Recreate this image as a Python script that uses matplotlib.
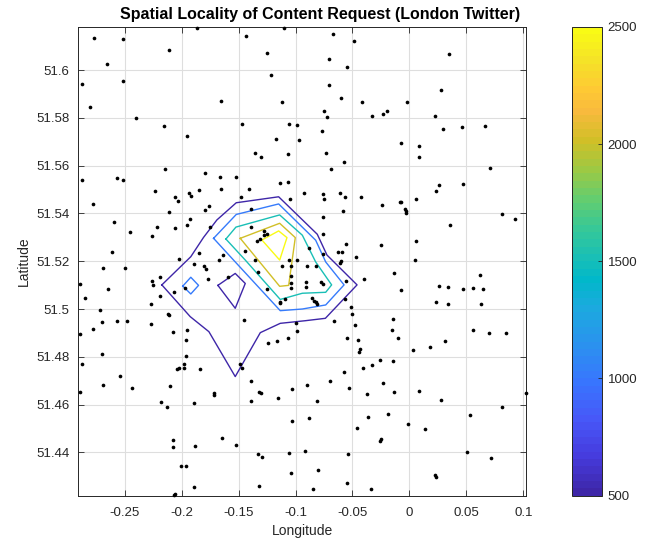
import matplotlib
matplotlib.use("Agg")
import matplotlib.pyplot as plt
from matplotlib.colors import LinearSegmentedColormap, Normalize
import matplotlib.cm as cm
import numpy as np

plt.rcParams['font.family'] = ['Liberation Sans', 'DejaVu Sans']

# ---------------- data ----------------
title = "Spatial Locality of Content Request (London Twitter)"
x_label = "Longitude"
y_label = "Latitude"
x_ticks = [-0.25, -0.2, -0.15, -0.1, -0.05, 0, 0.05, 0.1]
x_tick_labels = ["-0.25", "-0.2", "-0.15", "-0.1", "-0.05", "0", "0.05", "0.1"]
y_ticks = [51.44, 51.46, 51.48, 51.5, 51.52, 51.54, 51.56, 51.58, 51.6]
y_tick_labels = ["51.44", "51.46", "51.48", "51.5", "51.52", "51.54", "51.56", "51.58", "51.6"]
cbar_ticks = [500, 1000, 1500, 2000, 2500]

req_lon = [
    -0.2768, -0.2510, -0.2112, -0.2657, -0.2873, -0.2513, -0.2803, -0.2402, -0.2150, -0.1954,
    -0.2144, -0.2873, -0.2569, -0.2513, -0.2229, -0.2059, -0.2033, -0.1936, -0.1919, -0.2774,
    -0.2112, -0.2592, -0.1927, -0.1951, -0.2214, -0.2062, -0.2452, -0.2258, -0.2613, -0.2021,
    -0.1866, -0.1104, -0.1438, -0.1248, -0.1213, -0.1655, -0.1122, -0.1470, -0.1057, -0.0987,
    -0.1175, -0.0967, -0.1356, -0.1303, -0.1069, -0.1793, -0.1661, -0.1520, -0.1134, -0.1063,
    -0.1845, -0.1652, -0.1406, -0.0929, -0.1476, -0.1046, -0.1796, -0.1757, -0.1394, -0.1749,
    -0.1394, -0.1280, -0.1251, -0.1274, -0.1339, -0.1309, -0.1444, -0.1848, -0.1640, -0.1670,
    -0.1359, -0.1057, -0.0987,
    -0.0671, -0.0489, -0.0709, -0.0545, -0.0703, -0.0600, -0.0413, -0.0018, -0.0753, -0.0721,
    -0.0331, -0.0234, -0.0196, -0.0770, -0.0073, -0.0732, -0.0571, -0.0685, -0.0762, -0.0753,
    -0.0612, -0.0565, -0.0425, -0.0243, -0.0085, -0.0073, -0.0038, -0.0032, -0.0026, -0.0580,
    -0.0762, -0.0759, -0.0556, -0.0879, -0.0756, -0.0627, -0.0595, -0.0603, -0.0466, -0.0246,
    0.0343, 0.0278, 0.0220, 0.0293, 0.0460, 0.0665, 0.0082, 0.0082, 0.0703, 0.0261,
    0.0237, 0.0469, 0.0061, 0.0814, 0.0926, 0.0357, 0.0061, 0.0050,
    -0.2689, -0.2493, -0.2894, -0.2645, -0.2844, -0.2258, -0.2255, -0.2191, -0.2191, -0.2264,
    -0.2068, -0.1971, -0.2718, -0.2695, -0.2563, -0.2475, -0.2264, -0.2774, -0.2894, -0.2118,
    -0.2110, -0.2077, -0.1954, -0.1965, -0.2695, -0.2871, -0.1962, -0.1983, -0.2024, -0.2036,
    -0.1983, -0.2542, -0.2689, -0.2434, -0.2100, -0.2894, -0.2179, -0.2124, -0.2077, -0.2074,
    -0.2006, -0.1965, -0.2059, -0.2068,
    -0.1895, -0.1801, -0.1784, -0.1766, -0.1596, -0.1122, -0.1327, -0.1251, -0.1040, -0.1040,
    -0.1040, -0.1040, -0.1134, -0.1134, -0.1090, -0.1450, -0.0993, -0.0987, -0.1245, -0.1163,
    -0.1063, -0.1839, -0.1485, -0.1470, -0.1391, -0.1719, -0.1719, -0.1324, -0.1303, -0.1892,
    -0.1391, -0.1151, -0.1028, -0.1028, -0.1643, -0.1523, -0.1883, -0.1327, -0.1292, -0.1057,
    -0.1040, -0.1895, -0.1321,
    -0.0896, -0.0817, -0.0612, -0.0398, -0.0138, -0.0070, -0.0911, -0.0911, -0.0779, -0.0756,
    -0.0852, -0.0838, -0.0823, -0.0808, -0.0559, -0.0565, -0.0515, -0.0501, -0.0665, -0.0477,
    -0.0146, -0.0149, -0.0102, -0.0548, -0.0451, 0.0032, -0.0433, -0.0439, -0.0261, -0.0141,
    -0.0407, -0.0328, -0.0574, -0.0700, -0.0899, -0.0527, -0.0231, -0.0375, -0.0132, -0.0809,
    -0.0882, -0.0360, -0.0185, -0.0009, -0.0457, -0.0261, -0.0249, -0.0917, -0.0536, -0.0805,
    -0.0548, -0.0846, -0.0334,
    0.0618, 0.0261, 0.0340, 0.0466, 0.0554, 0.0644, 0.0231, 0.0334, 0.0630, 0.0554,
    0.0700, 0.0849, 0.0313, 0.0182, 0.0085, 0.0278, 0.0808, 0.1025, 0.0530, 0.0138,
    0.0507, 0.0712, 0.0226, 0.0237,
]
req_lat = [
    51.6136, 51.6129, 51.6083, 51.6027, 51.5944, 51.5953, 51.5847, 51.5801, 51.5766, 51.5724,
    51.5588, 51.5542, 51.5550, 51.5540, 51.5493, 51.5469, 51.5452, 51.5486, 51.5472, 51.5441,
    51.5406, 51.5364, 51.5376, 51.5350, 51.5345, 51.5339, 51.5321, 51.5306, 51.5237, 51.5209,
    51.6178, 51.6178, 51.6142, 51.6071, 51.5981, 51.5871, 51.5865, 51.5776, 51.5775, 51.5771,
    51.5713, 51.5708, 51.5655, 51.5637, 51.5648, 51.5568, 51.5553, 51.5554, 51.5528, 51.5530,
    51.5500, 51.5503, 51.5504, 51.5487, 51.5467, 51.5460, 51.5415, 51.5433, 51.5417, 51.5343,
    51.5343, 51.5327, 51.5316, 51.5310, 51.5285, 51.5293, 51.5244, 51.5233, 51.5226, 51.5206,
    51.5205, 51.5204, 51.5204,
    51.6152, 51.6124, 51.6047, 51.6013, 51.5938, 51.5882, 51.5867, 51.5867, 51.5831, 51.5804,
    51.5810, 51.5815, 51.5829, 51.5745, 51.5695, 51.5652, 51.5616, 51.5588, 51.5482, 51.5461,
    51.5487, 51.5470, 51.5469, 51.5434, 51.5448, 51.5447, 51.5420, 51.5412, 51.5403, 51.5409,
    51.5384, 51.5314, 51.5272, 51.5257, 51.5230, 51.5239, 51.5239, 51.5200, 51.5216, 51.5268,
    51.6069, 51.5918, 51.5808, 51.5755, 51.5764, 51.5765, 51.5683, 51.5638, 51.5590, 51.5518,
    51.5493, 51.5525, 51.5461, 51.5396, 51.5378, 51.5353, 51.5285, 51.5204,
    51.5172, 51.5172, 51.5103, 51.5085, 51.5048, 51.5119, 51.5099, 51.5135, 51.5054, 51.5022,
    51.5071, 51.5088, 51.4996, 51.4946, 51.4951, 51.4948, 51.4939, 51.4915, 51.4895, 51.4978,
    51.4973, 51.4905, 51.4912, 51.4872, 51.4810, 51.4770, 51.4803, 51.4770, 51.4752, 51.4747,
    51.4753, 51.4718, 51.4680, 51.4669, 51.4679, 51.4651, 51.4612, 51.4588, 51.4453, 51.4421,
    51.4344, 51.4344, 51.4224, 51.4221,
    51.5188, 51.5181, 51.5166, 51.5126, 51.5135, 51.5181, 51.5154, 51.5082, 51.5180, 51.5138,
    51.5107, 51.5088, 51.5031, 51.5024, 51.5041, 51.4953, 51.4940, 51.4907, 51.4859, 51.4866,
    51.4880, 51.4750, 51.4770, 51.4751, 51.4698, 51.4648, 51.4641, 51.4654, 51.4647, 51.4608,
    51.4616, 51.4626, 51.4663, 51.4532, 51.4461, 51.4429, 51.4427, 51.4391, 51.4381, 51.4398,
    51.4315, 51.4253, 51.4257,
    51.5181, 51.5181, 51.5194, 51.5126, 51.5149, 51.5080, 51.5115, 51.5094, 51.5115, 51.5103,
    51.5045, 51.5035, 51.5028, 51.5021, 51.5116, 51.5042, 51.5010, 51.4979, 51.4950, 51.4932,
    51.4957, 51.4912, 51.4880, 51.4880, 51.4872, 51.4828, 51.4834, 51.4820, 51.4788, 51.4781,
    51.4754, 51.4765, 51.4735, 51.4699, 51.4680, 51.4669, 51.4689, 51.4645, 51.4654, 51.4613,
    51.4545, 51.4549, 51.4562, 51.4520, 51.4500, 51.4449, 51.4454, 51.4407, 51.4391, 51.4324,
    51.4273, 51.4246, 51.4246,
    51.5144, 51.5095, 51.5094, 51.5084, 51.5088, 51.5084, 51.5028, 51.5022, 51.5019, 51.4911,
    51.4899, 51.4898, 51.4867, 51.4842, 51.4657, 51.4618, 51.4591, 51.4647, 51.4556, 51.4496,
    51.4400, 51.4376, 51.4305, 51.4298,
]

# contour levels and their iso-lines (lon, lat vertices)
contour_levels = [500, 500, 1000, 1000, 1500, 2000, 2500]
contour_lons = [
    [-0.2173, -0.1919, -0.1807, -0.1690, -0.1520, -0.1148, -0.0809, -0.0724, -0.0460, -0.0738,
     -0.0914, -0.1134, -0.1309, -0.1529, -0.1760, -0.1924, -0.2173],
    [-0.1681, -0.1529, -0.1441, -0.1529, -0.1681],
    [-0.1719, -0.1520, -0.1148, -0.0823, -0.0735, -0.0574, -0.0735, -0.0940, -0.1134, -0.1544, -0.1719],
    [-0.1989, -0.1919, -0.1851, -0.1919, -0.1989],
    [-0.1611, -0.1523, -0.1139, -0.0940, -0.0823, -0.0683, -0.0735, -0.0940, -0.1134, -0.1441, -0.1611],
    [-0.1485, -0.1139, -0.1002, -0.1060, -0.1139, -0.1485],
    [-0.1295, -0.1148, -0.1075, -0.1139, -0.1295],
]
contour_lats = [
    [51.5101, 51.5219, 51.5300, 51.5373, 51.5445, 51.5470, 51.5313, 51.5226, 51.5101, 51.4961,
     51.4951, 51.4940, 51.4901, 51.4717, 51.4905, 51.4968, 51.5101],
    [51.5099, 51.5149, 51.5107, 51.5003, 51.5099],
    [51.5296, 51.5396, 51.5440, 51.5288, 51.5197, 51.5101, 51.5017, 51.5000, 51.4993, 51.5205, 51.5296],
    [51.5096, 51.5133, 51.5099, 51.5063, 51.5096],
    [51.5293, 51.5343, 51.5394, 51.5309, 51.5197, 51.5101, 51.5070, 51.5066, 51.5040, 51.5205, 51.5293],
    [51.5296, 51.5359, 51.5299, 51.5099, 51.5095, 51.5296],
    [51.5289, 51.5327, 51.5299, 51.5205, 51.5289],
]

# ---------------- style ----------------
parula_anchors = [
    (0.2422, 0.1504, 0.6603), (0.2751, 0.2342, 0.8710), (0.2795, 0.3447, 0.9717),
    (0.2206, 0.4603, 0.9973), (0.1687, 0.5703, 0.9359), (0.1113, 0.6635, 0.8763),
    (0.0036, 0.7203, 0.7917), (0.0964, 0.7500, 0.7120), (0.2161, 0.7843, 0.5923),
    (0.3909, 0.8029, 0.4354), (0.6174, 0.7876, 0.2612), (0.8203, 0.7498, 0.1535),
    (0.9728, 0.7298, 0.2394), (0.9952, 0.7893, 0.2028), (0.9610, 0.8890, 0.1537),
    (0.9769, 0.9839, 0.0805),
]
anchor_pos = [0, 5, 10, 15, 20, 25, 29, 32, 36, 40, 44, 48, 52, 55, 59, 63]
parula = LinearSegmentedColormap.from_list(
    "parula", [(p / 63.0, c) for p, c in zip(anchor_pos, parula_anchors)], N=64)
norm = Normalize(vmin=500, vmax=2500)

fig = plt.figure(figsize=(6.51, 5.41), dpi=100)
ax = fig.add_axes([0.1198, 0.0841, 0.6884, 0.866])
tick_color = (0.15, 0.15, 0.15)

ax.grid(True, color=(0.87, 0.87, 0.87), linewidth=0.8)
ax.set_axisbelow(True)

for lev, xs, ys in zip(contour_levels, contour_lons, contour_lats):
    ax.plot(xs, ys, color=parula(norm(lev)), linewidth=1.0, zorder=3)

ax.scatter(req_lon, req_lat, s=7, c='black', linewidths=0, zorder=4, clip_on=False)

ax.set_xlim(-0.2909, 0.1024)
ax.set_ylim(51.4219, 51.6181)
ax.set_xticks(x_ticks)
ax.set_xticklabels(x_tick_labels)
ax.set_yticks(y_ticks)
ax.set_yticklabels(y_tick_labels)
ax.tick_params(direction='in', length=4, width=0.6, colors=tick_color, labelsize=9.5,
               top=True, right=True, labeltop=False, labelright=False, pad=6)
ax.tick_params(axis='x', pad=8)
for sp in ax.spines.values():
    sp.set_color(tick_color)
    sp.set_linewidth(0.7)

ax.set_xlabel(x_label, fontsize=10, color=tick_color, labelpad=4)
ax.set_ylabel(y_label, fontsize=10, color=tick_color, labelpad=4)
fig.text(0.4916, 0.974, title, fontsize=11.5, fontweight='bold', color='black',
         ha='center', va='center')

cax = fig.add_axes([0.8787, 0.0841, 0.0461, 0.866])
sm = cm.ScalarMappable(norm=norm, cmap=parula)
cb = fig.colorbar(sm, cax=cax, ticks=cbar_ticks)
cb.ax.tick_params(direction='in', length=3, width=0.6, colors=tick_color, labelsize=9.5, pad=4)
cb.outline.set_edgecolor(tick_color)
cb.outline.set_linewidth(0.7)

fig.savefig("out.png", dpi=100)
